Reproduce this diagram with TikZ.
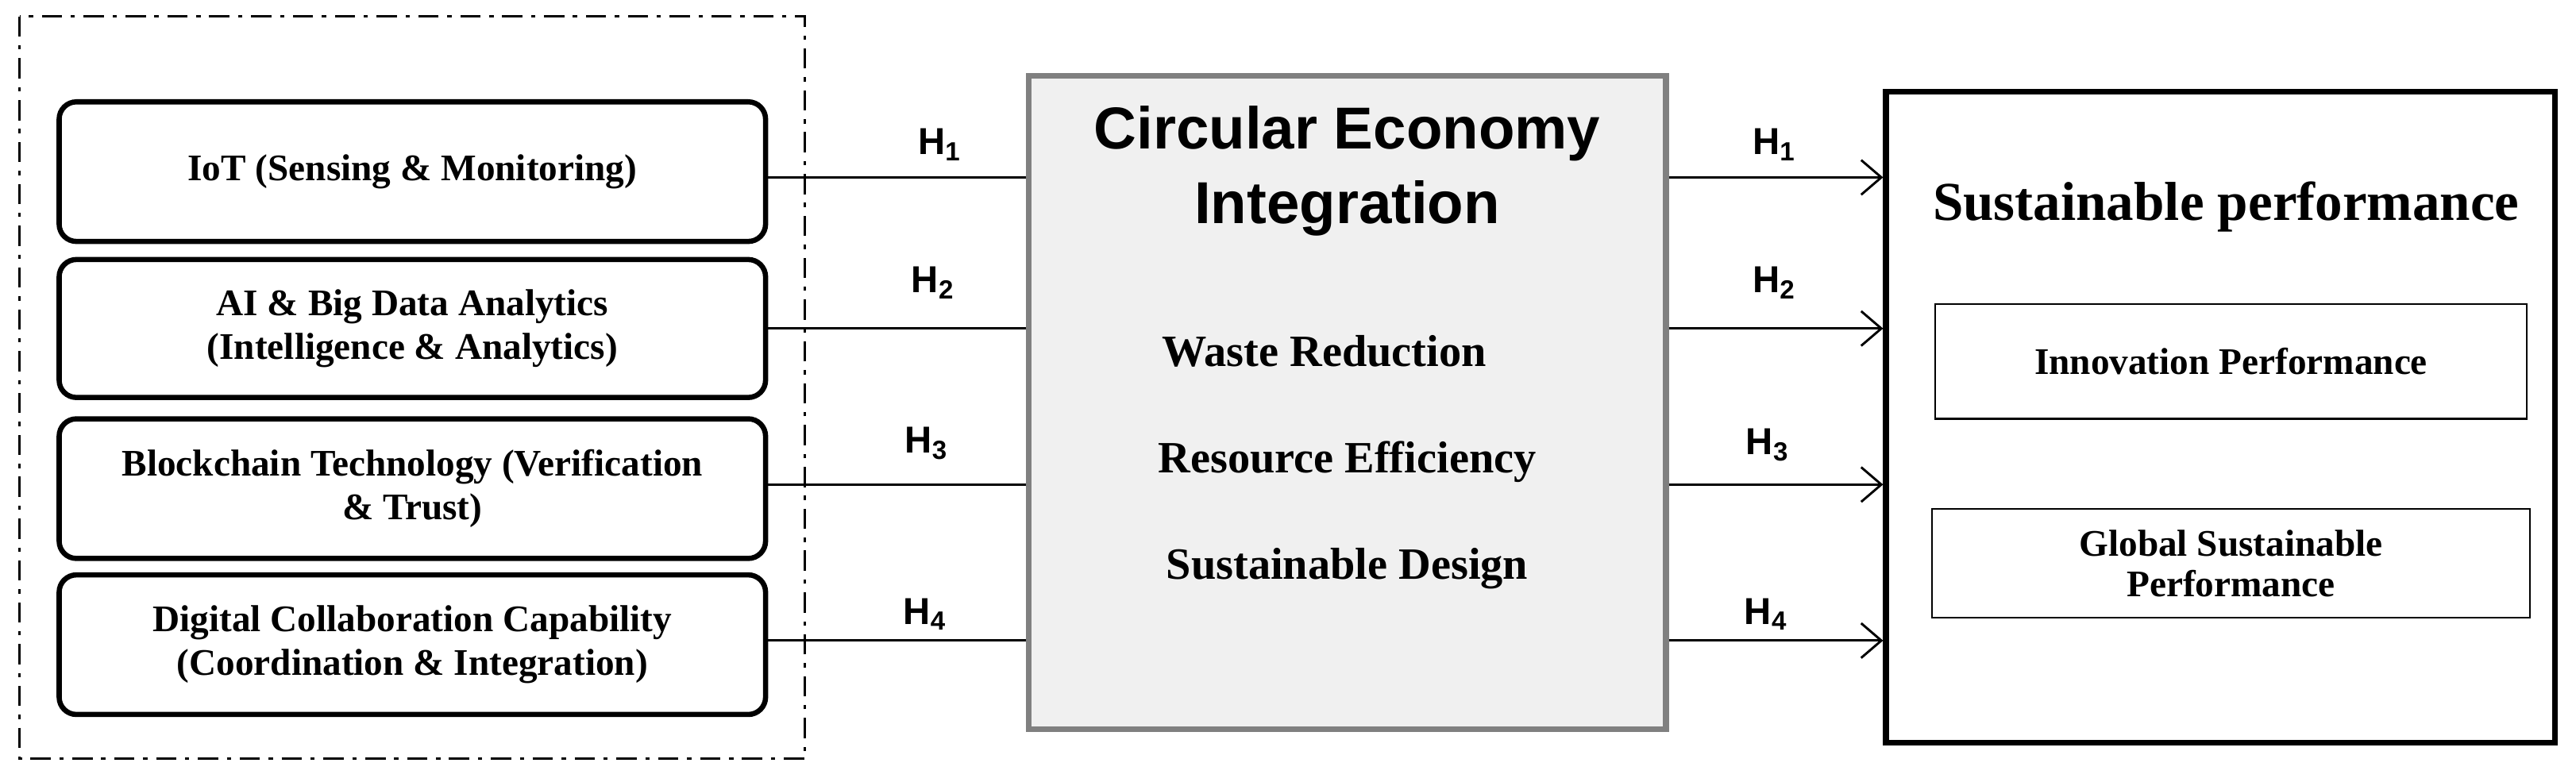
\documentclass[tikz,border=0pt]{standalone}
\usepackage{fontspec}
\setmainfont{Liberation Serif}
\newfontfamily\hfont{Liberation Sans}
\usetikzlibrary{arrows.meta}
\begin{document}
\begin{tikzpicture}[x=0.02cm,y=-0.02cm,
  lbox/.style={draw,line width=1.8pt,rounded corners=6pt,align=center,font=\bfseries\fontsize{13}{15}\selectfont},
  hl/.style={font=\hfont\bfseries\fontsize{13}{14}\selectfont},
  item/.style={font=\bfseries\fontsize{15.5}{17}\selectfont},
  ibox/.style={draw,line width=0.6pt,align=center,font=\bfseries\fontsize{13}{14}\selectfont},
  arr/.style={-{Straight Barb[length=7pt,width=12pt]},line width=0.8pt}]
\useasboundingbox (0,0) rectangle (1568,476);
\draw[line width=0.8pt,dash pattern=on 7pt off 3pt on 1.5pt off 3pt] (12,10) rectangle (490,462);
\node[lbox,minimum width=430*0.02cm,minimum height=85*0.02cm] (b1) at (251,104.5) {IoT (Sensing \& Monitoring)};
\node[lbox,minimum width=430*0.02cm,minimum height=84*0.02cm] (b2) at (251,200) {AI \& Big Data Analytics\\(Intelligence \& Analytics)};
\node[lbox,minimum width=430*0.02cm,minimum height=85*0.02cm] (b3) at (251,297.5) {Blockchain Technology (Verification\\\& Trust)};
\node[lbox,minimum width=430*0.02cm,minimum height=85*0.02cm] (b4) at (251,392.5) {Digital Collaboration Capability\\(Coordination \& Integration)};
\node[draw=gray,fill=gray!12,line width=2pt,minimum width=388*0.02cm,minimum height=398*0.02cm] (ce) at (820,245) {};
\node[font=\hfont\bfseries\fontsize{20.5}{26}\selectfont,align=center] (cet) at (820,104) {Circular Economy\\Integration};
\node[item] (w) at (806,214) {Waste Reduction};
\node[item] (r) at (820,281) {Resource Efficiency};
\node[item] (s) at (820,346) {Sustainable Design};
\node[draw,line width=2pt,minimum width=407*0.02cm,minimum height=396*0.02cm] (sp) at (1351.5,254) {};
\node[font=\bfseries\fontsize{19}{21}\selectfont] (spt) at (1355,126) {Sustainable performance};
\node[ibox,minimum width=360*0.02cm,minimum height=70*0.02cm] (ip) at (1358,220) {Innovation Performance};
\node[ibox,minimum width=364*0.02cm,minimum height=66*0.02cm] (gp) at (1358,343) {Global Sustainable\\Performance};
\foreach \i/\y/\lx/\ly/\rx/\ry in {1/108/572/88/1080/88, 2/200/568/172/1080/172, 3/295/564/270/1076/271, 4/390/563/374/1075/374}{
  \draw[line width=0.8pt] (b\i.east |- 0,\y) -- (ce.west |- 0,\y);
  \draw[arr] (ce.east |- 0,\y) -- (sp.west |- 0,\y);
  \node[hl] at (\lx,\ly) {H\textsubscript{\i}};
  \node[hl] at (\rx,\ry) {H\textsubscript{\i}};
}
\end{tikzpicture}
\end{document}
